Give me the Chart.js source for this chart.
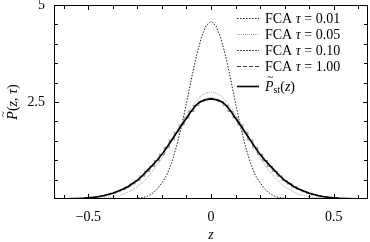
<!DOCTYPE html>
<html>
<head>
<meta charset="utf-8">
<script src="https://cdn.jsdelivr.net/npm/chart.js@4.4.1/dist/chart.umd.min.js"></script>
<style>
  html, body { margin: 0; padding: 0; background: #fff; }
</style>
</head>
<body>
<canvas id="fca_chart" width="370" height="242"></canvas>
<script>
// z grid shared by all curves
var z_values = [-0.64,-0.62,-0.60,-0.58,-0.56,-0.54,-0.52,-0.50,-0.48,-0.46,-0.44,-0.42,-0.40,-0.38,-0.36,-0.34,-0.32,
  -0.30,-0.28,-0.26,-0.24,-0.22,-0.20,-0.18,-0.16,-0.14,-0.12,-0.10,-0.08,-0.06,-0.04,-0.02,0,
  0.02,0.04,0.06,0.08,0.10,0.12,0.14,0.16,0.18,0.20,0.22,0.24,0.26,0.28,0.30,0.32,
  0.34,0.36,0.38,0.40,0.42,0.44,0.46,0.48,0.50,0.52,0.54,0.56,0.58,0.60,0.62,0.64];

var fca_001 = [0,0,0,0,0,0,0,0,0,0,0,0,0,0,0.001,0.003,0.008,0.018,0.036,0.07,0.14,0.25,0.42,0.62,0.94,1.37,1.88,2.47,3.09,3.67,4.15,4.47,
  4.58,
  4.47,4.15,3.67,3.09,2.47,1.88,1.37,0.94,0.62,0.42,0.25,0.14,0.07,0.036,0.018,0.008,0.003,0.001,0,0,0,0,0,0,0,0,0,0,0,0,0,0];

var fca_005 = [0,0,0,0.001,0.001,0.002,0.004,0.007,0.011,0.017,0.027,0.04,0.06,0.087,0.12,0.17,0.24,0.32,0.42,0.55,0.70,0.87,1.06,1.27,1.50,1.73,1.96,2.17,2.37,2.53,2.66,2.73,
  2.76,
  2.73,2.66,2.53,2.37,2.17,1.96,1.73,1.50,1.27,1.06,0.87,0.70,0.55,0.42,0.32,0.24,0.17,0.12,0.087,0.06,0.04,0.027,0.017,0.011,0.007,0.004,0.002,0.001,0.001,0,0,0];

var fca_010 = [0.002,0.003,0.004,0.006,0.009,0.014,0.02,0.03,0.042,0.058,0.08,0.11,0.145,0.19,0.245,0.31,0.39,0.48,0.59,0.71,0.84,0.99,1.15,1.33,1.52,1.72,1.91,2.09,2.26,2.41,2.51,2.57,
  2.60,
  2.57,2.51,2.41,2.26,2.09,1.91,1.72,1.52,1.33,1.15,0.99,0.84,0.71,0.59,0.48,0.39,0.31,0.245,0.19,0.145,0.11,0.08,0.058,0.042,0.03,0.02,0.014,0.009,0.006,0.004,0.003,0.002];

var fca_100 = [0.002,0.003,0.005,0.007,0.010,0.015,0.021,0.031,0.044,0.061,0.086,0.116,0.152,0.20,0.255,0.315,0.40,0.485,0.60,0.725,0.855,1.00,1.15,1.33,1.52,1.71,1.90,2.08,2.26,2.42,2.52,2.57,
  2.59,
  2.57,2.52,2.42,2.26,2.08,1.90,1.71,1.52,1.33,1.15,1.00,0.855,0.725,0.60,0.485,0.40,0.315,0.255,0.20,0.152,0.116,0.086,0.061,0.044,0.031,0.021,0.015,0.010,0.007,0.005,0.003,0.002];

var p_st = [0.002,0.003,0.004,0.006,0.009,0.014,0.02,0.03,0.043,0.06,0.085,0.115,0.15,0.20,0.25,0.31,0.40,0.48,0.60,0.73,0.86,1.00,1.15,1.33,1.52,1.71,1.90,2.08,2.27,2.43,2.52,2.56,
  2.58,
  2.56,2.52,2.43,2.27,2.08,1.90,1.71,1.52,1.33,1.15,1.00,0.86,0.73,0.60,0.48,0.40,0.31,0.25,0.20,0.15,0.115,0.085,0.06,0.043,0.03,0.02,0.014,0.009,0.006,0.004,0.003,0.002];

// tick positions and labels
var x_label_values = [-0.5, 0, 0.5];
var x_minor_ticks = [-0.6,-0.5,-0.4,-0.3,-0.2,-0.1,0,0.1,0.2,0.3,0.4,0.5,0.6];
var y_label_values = [2.5, 5];
var y_minor_ticks = [0.5,1,1.5,2,2.5,3,3.5,4,4.5];
var tau_labels = ['0.01', '0.05', '0.10', '1.00'];

var serif = "'Liberation Serif', 'DejaVu Serif', serif";
var font_size = 14;

// dash pattern of each legend sample (the 0.10 curve itself is a gray staircase)
var legend_dash = [[1.5, 1.5], [1, 1], [2, 1], [4, 2], []];

function toPoints(values)
{
  return z_values.map(function(z, i) { return { x: z, y: values[i] }; });
}

// draws a run of text pieces (some italic, some subscript), returns width
function drawRich(ctx, parts, x, y, measureOnly)
{
  var cx = x;
  parts.forEach(function(p)
  {
    var f = (p.italic ? 'italic ' : '') + (p.size || font_size) + 'px ' + serif;
    ctx.font = f;
    if (!measureOnly)
    {
      ctx.fillText(p.t, cx, y + (p.dy || 0));
      if (p.tilde)
      {
        ctx.font = '11px ' + serif;
        ctx.fillText('~', cx + 2.5, y - 10);
        ctx.font = f;
      }
    }
    cx += ctx.measureText(p.t).width;
  });
  return cx - x;
}

var frame_plugin =
{
  id: 'frame_plugin',
  afterDraw: function(chart)
  {
    var ctx = chart.ctx;
    var area = chart.chartArea;
    var xs = chart.scales.x;
    var ys = chart.scales.y;

    ctx.save();
    ctx.strokeStyle = '#000';
    ctx.lineWidth = 1;
    ctx.strokeRect(area.left + 0.5, area.top + 0.5, area.right - area.left - 1, area.bottom - area.top - 1);

    // inward ticks on all four sides
    ctx.beginPath();
    x_minor_ticks.forEach(function(v)
    {
      var px = Math.round(xs.getPixelForValue(v)) + 0.5;
      var len = x_label_values.indexOf(v) >= 0 ? 5 : 4;
      ctx.moveTo(px, area.bottom); ctx.lineTo(px, area.bottom - len);
      ctx.moveTo(px, area.top); ctx.lineTo(px, area.top + len);
    });
    y_minor_ticks.forEach(function(v)
    {
      var py = Math.round(ys.getPixelForValue(v)) + 0.5;
      var len = y_label_values.indexOf(v) >= 0 ? 5 : 4;
      ctx.moveTo(area.left, py); ctx.lineTo(area.left + len, py);
      ctx.moveTo(area.right, py); ctx.lineTo(area.right - len, py);
    });
    ctx.stroke();

    // legend, top right inside the plot
    var styles = chart.data.datasets;
    var rows = [18, 34, 50, 66, 86];
    ctx.fillStyle = '#000';
    ctx.textBaseline = 'middle';
    ctx.textAlign = 'left';
    for (var i = 0; i < 5; i++)
    {
      var ds = styles[i];
      ctx.beginPath();
      ctx.strokeStyle = i == 2 ? '#555' : ds.borderColor;
      ctx.lineWidth = i == 2 ? 1 : ds.borderWidth;
      ctx.setLineDash(legend_dash[i]);
      ctx.moveTo(237, rows[i] + 0.5);
      ctx.lineTo(259, rows[i] + 0.5);
      ctx.stroke();
      ctx.setLineDash([]);
      if (i < 4)
      {
        drawRich(ctx, [{ t: 'FCA ' }, { t: 'τ', italic: true }, { t: ' = ' + tau_labels[i] }], 265, rows[i] + 1);
      }
      else
      {
        drawRich(ctx, [{ t: 'P', italic: true, tilde: true }, { t: 'st', size: 10, dy: 3 }, { t: '(' }, { t: 'z', italic: true }, { t: ')' }], 265, rows[i] + 1);
      }
    }

    // y axis title, rotated
    var ytitle = [{ t: 'P', italic: true, tilde: true }, { t: '(' }, { t: 'z', italic: true }, { t: ', ' }, { t: 'τ', italic: true }, { t: ')' }];
    ctx.translate(13, (area.top + area.bottom) / 2);
    ctx.rotate(-Math.PI / 2);
    var w = drawRich(ctx, ytitle, 0, 0, true);
    drawRich(ctx, ytitle, -w / 2, 0);
    ctx.restore();
  }
};

var chart_data =
{
  datasets:
  [
    { label: 'FCA 0.01', data: toPoints(fca_001), borderColor: '#222', borderWidth: 1, borderDash: legend_dash[0], order: 4 },
    { label: 'FCA 0.05', data: toPoints(fca_005), borderColor: '#999', borderWidth: 0.9, borderDash: legend_dash[1], order: 3 },
    { label: 'FCA 0.10', data: toPoints(fca_010), borderColor: '#999', borderWidth: 1.2, stepped: 'middle', order: 2 },
    { label: 'FCA 1.00', data: toPoints(fca_100), borderColor: '#444', borderWidth: 1, borderDash: legend_dash[3], order: 1 },
    { label: 'P st', data: toPoints(p_st), borderColor: '#000', borderWidth: 1.6, order: 0 }
  ]
};

var chart_options =
{
  responsive: false,
  animation: false,
  devicePixelRatio: 1,
  layout: { padding: { top: 5, right: 2, left: 0, bottom: 0 } },
  elements: { point: { radius: 0 }, line: { fill: false } },
  plugins: { legend: { display: false }, tooltip: { enabled: false } },
  scales:
  {
    x:
    {
      type: 'linear',
      min: -0.64,
      max: 0.64,
      grid: { display: false, drawTicks: false },
      border: { display: false },
      afterBuildTicks: function(scale) { scale.ticks = x_label_values.map(function(v) { return { value: v }; }); },
      afterFit: function(scale) { scale.height = 43; scale.paddingLeft = 0; scale.paddingRight = 0; },
      ticks:
      {
        padding: 10,
        color: '#000',
        maxRotation: 0,
        autoSkip: false,
        font: { family: serif, size: font_size },
        callback: function(v) { return v < 0 ? '\u2212' + Math.abs(v) : String(v); }
      },
      title: { display: true, text: 'z', color: '#000', padding: 0, font: { family: serif, size: font_size, style: 'italic', lineHeight: 1 } }
    },
    y:
    {
      min: 0,
      max: 5,
      grid: { display: false, drawTicks: false },
      border: { display: false },
      afterBuildTicks: function(scale) { scale.ticks = y_label_values.map(function(v) { return { value: v }; }); },
      afterFit: function(scale) { scale.width = 54; scale.paddingTop = 0; scale.paddingBottom = 0; },
      ticks: { padding: 9, color: '#000', font: { family: serif, size: font_size } }
    }
  }
};

var ctx = document.getElementById('fca_chart').getContext('2d');
var fca_chart = new Chart(ctx,
{
  type: 'line',
  data: chart_data,
  options: chart_options,
  plugins: [frame_plugin]
});
</script>
</body>
</html>
